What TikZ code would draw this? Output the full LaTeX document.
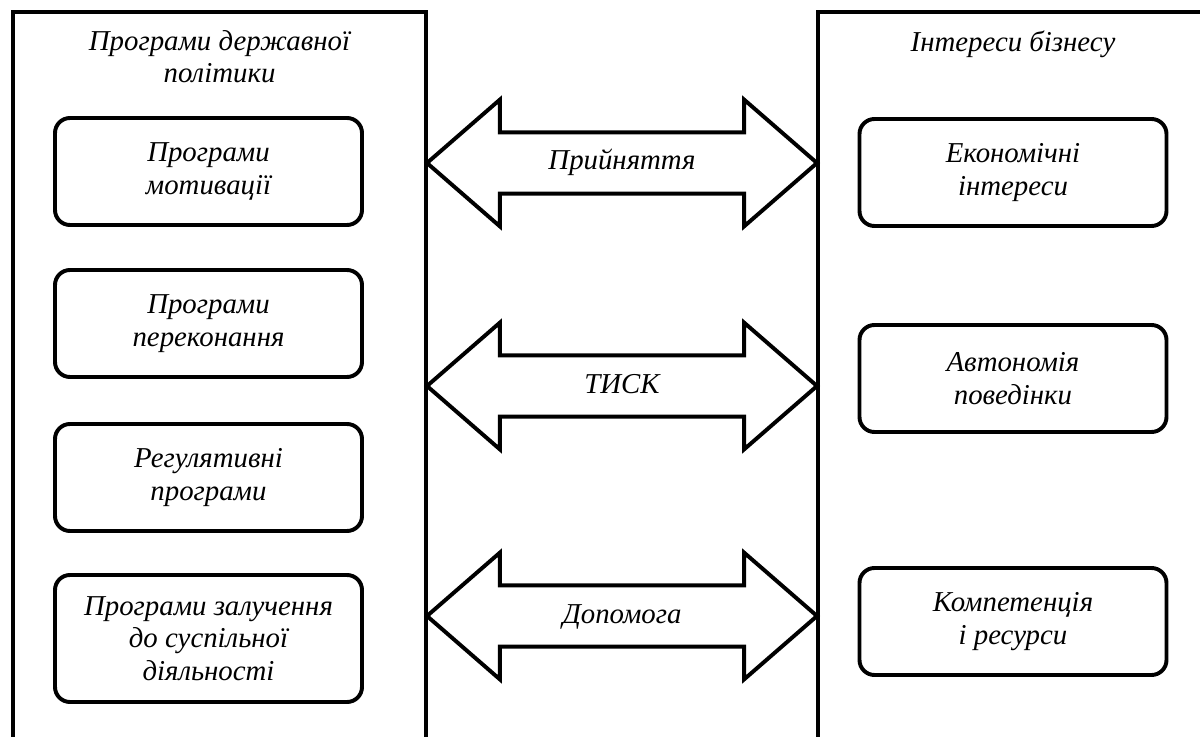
\documentclass[tikz,border=0pt]{standalone}
\usepackage{fontspec}
\setmainfont{Liberation Serif}
\usetikzlibrary{shapes.arrows}

\begin{document}
\begin{tikzpicture}[x=0.25mm, y=-0.25mm,
        every node/.style={font=\fontsize{20.5}{23}\selectfont\itshape, align=center},
        frame/.style={draw=black, line width=3.4pt, inner sep=0pt},
        prog/.style={draw=black, line width=2.8pt, rounded corners=3.75mm, minimum width=76.75mm, minimum height=26.75mm, inner sep=0pt},
        link/.style={double arrow, draw=black, line width=2.8pt, minimum height=97.5mm, double arrow head extend=8.2mm, double arrow tip angle=82, text height=5mm, text depth=1.5mm, inner xsep=2mm, inner ysep=3.9mm}]
        \clip (0,0) rectangle (1200,737);

        % the two big frames, open at the bottom
        \node[frame, minimum width=103.25mm, minimum height=187mm] (gov) at (219.5,386) {};
        \node[frame, minimum width=97.5mm, minimum height=187mm] (biz) at (1013,386) {};
        \node (govtitle) at (219.5,57) {Програми державної\\політики};
        \node (biztitle) at (1013,44) {Інтереси бізнесу};

        \node[prog] (motiv) at (208.5,171.5) {Програми\\мотивації};
        \node[prog] (perek) at (208.5,323.5) {Програми\\переконання};
        \node[prog] (regul) at (208.5,477.5) {Регулятивні\\програми};
        \node[prog, minimum height=31.75mm] (zaluch) at (208.5,638.5) {Програми залучення\\до суспільної\\діяльності};

        \node[prog] (econ) at (1013,172.5) {Економічні\\інтереси};
        \node[prog] (auto) at (1013,378.5) {Автономія\\поведінки};
        \node[prog] (komp) at (1013,621.5) {Компетенція\\і ресурси};

        \node[link] (accept) at (622,163) {Прийняття};
        \node[link] (press) at (622,386) {ТИСК};
        \node[link] (help) at (622,616) {Допомога};
    \end{tikzpicture}
\end{document}
